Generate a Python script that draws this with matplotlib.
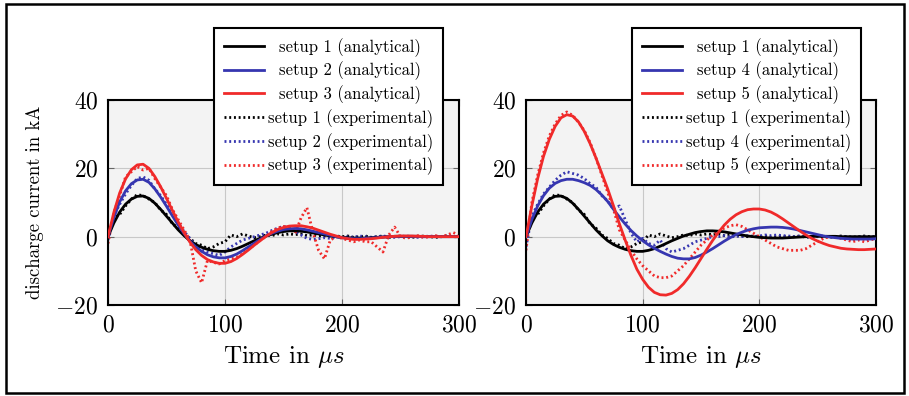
import numpy as np
import matplotlib
matplotlib.use('Agg')
import matplotlib.pyplot as plt
from matplotlib.patches import Rectangle

plt.rcParams['font.family'] = ['cmr10', 'DejaVu Serif']
plt.rcParams['mathtext.fontset'] = 'cm'
plt.rcParams['axes.formatter.use_mathtext'] = True
plt.rcParams['axes.unicode_minus'] = True

# time grid in microseconds (5 us sampling)
t = np.arange(0, 305, 5)

# analytical curves (kA)
s1_ana = [0.0, 4.0, 7.2, 9.5, 11.0, 11.8, 11.9, 11.2, 9.8, 8.0, 6.0, 4.0, 2.0, 0.3, -1.2, -2.3,
          -3.1, -3.7, -4.1, -4.3, -4.3, -4.0, -3.5, -2.8, -2.0, -1.2, -0.5, 0.2, 0.7, 1.2, 1.5,
          1.7, 1.7, 1.6, 1.4, 1.1, 0.8, 0.5, 0.2, 0.0, -0.2, -0.3, -0.4, -0.4, -0.4, -0.3, -0.2,
          -0.1, 0.0, 0.1, 0.1, 0.1, 0.1, 0.1, 0.0, 0.0, 0.0, 0.0, 0.0, 0.0, 0.0]
s2_ana = [0.0, 5.6, 10.2, 13.4, 15.5, 16.6, 16.8, 15.9, 14.0, 11.6, 8.9, 6.1, 3.4, 0.9, -1.3, -3.0,
          -4.3, -5.3, -5.9, -6.2, -6.2, -5.8, -5.1, -4.1, -3.0, -1.9, -0.8, 0.2, 1.0, 1.6, 2.1,
          2.3, 2.4, 2.3, 2.0, 1.6, 1.2, 0.8, 0.4, 0.0, -0.3, -0.5, -0.6, -0.6, -0.5, -0.4, -0.3,
          -0.1, 0.0, 0.1, 0.1, 0.1, 0.1, 0.1, 0.0, 0.0, 0.0, 0.0, 0.0, 0.0, 0.0]
s3_ana = [0.0, 7.1, 12.8, 16.9, 19.6, 21.0, 21.2, 20.0, 17.6, 14.6, 11.2, 7.7, 4.3, 1.2, -1.6, -3.8,
          -5.5, -6.7, -7.4, -7.8, -7.8, -7.3, -6.4, -5.2, -3.9, -2.5, -1.2, 0.1, 1.2, 2.1, 2.7,
          3.1, 3.2, 3.2, 2.9, 2.5, 1.9, 1.3, 0.7, 0.2, -0.3, -0.6, -0.8, -0.8, -0.7, -0.6, -0.4,
          -0.2, 0.0, 0.1, 0.2, 0.2, 0.2, 0.1, 0.1, 0.0, 0.0, 0.0, 0.0, 0.0, 0.0]
s4_ana = [0.0, 5.0, 9.0, 12.0, 14.2, 15.6, 16.4, 16.8, 16.8, 16.4, 15.8, 15.0, 13.8, 12.2, 10.3, 8.0,
          5.8, 3.7, 1.8, 0.2, -1.2, -2.4, -3.4, -4.3, -5.1, -5.8, -6.3, -6.5, -6.5, -6.1, -5.4,
          -4.5, -3.5, -2.4, -1.3, -0.3, 0.6, 1.3, 1.9, 2.3, 2.6, 2.7, 2.8, 2.8, 2.7, 2.5, 2.2,
          1.8, 1.4, 1.0, 0.6, 0.2, -0.1, -0.3, -0.5, -0.6, -0.7, -0.7, -0.7, -0.7, -0.6]
s5_ana = [0.0, 9.0, 17.0, 23.5, 28.5, 32.3, 34.8, 35.7, 35.3, 33.6, 30.8, 27.2, 23.0, 18.5, 14.0, 9.0,
          3.8, -1.0, -5.5, -9.5, -12.5, -14.8, -16.3, -17.0, -17.1, -16.6, -15.5, -13.8, -11.6, -9.1, -6.4,
          -3.7, -1.1, 1.3, 3.4, 5.1, 6.4, 7.3, 7.9, 8.1, 8.1, 7.8, 7.2, 6.3, 5.2, 4.0, 2.8,
          1.6, 0.5, -0.5, -1.3, -2.0, -2.6, -3.0, -3.4, -3.6, -3.7, -3.8, -3.8, -3.7, -3.6]

# experimental curves (kA)
s1_exp = [1.0, 5.5, 6.5, 9.0, 11.0, 12.3, 12.0, 11.0, 10.0, 7.8, 6.5, 3.8, 2.5, 0.5, -0.5, -2.0,
          -2.5, -3.5, -3.0, -2.0, -1.5, 0.5, 0.0, 0.8, 0.2, -0.3, 0.0, 0.5, 0.3, 0.8, 0.5,
          0.8, 0.6, 0.8, 0.3, 0.5, 0.2, 0.3, 0.0, 0.2, 0.0, 0.2, -0.2, 0.0, 0.2, -0.2, 0.0,
          0.2, -0.2, 0.0, 0.2, 0.0, -0.2, 0.0, 0.2, 0.0, -0.2, 0.0, 0.2, 0.0, 0.0]
s2_exp = [-1.0, 6.0, 9.5, 12.5, 15.0, 17.0, 17.5, 16.5, 14.0, 12.0, 9.5, 6.5, 4.0, 1.5, -0.5, -2.5,
          -3.5, -4.5, -5.0, -5.5, -4.5, -3.0, -2.0, -1.0, -0.5, 0.0, 0.5, 1.0, 1.8, 2.5, 3.0,
          2.6, 1.5, 0.5, -0.5, -0.8, -0.6, -0.3, -0.5, 0.0, -0.3, 0.0, -0.2, 0.2, 0.0, -0.2, 0.0,
          0.2, 0.0, -0.2, 0.0, 0.2, 0.0, -0.2, 0.0, 0.2, 0.0, 0.0, 0.2, 0.0, 0.0]
s3_exp = [-2.0, 7.0, 12.0, 17.5, 19.0, 20.5, 19.5, 20.0, 17.0, 14.5, 12.0, 8.0, 5.0, 2.0, -1.0, -10.0,
          -13.5, -7.0, -7.5, -8.0, -7.0, -6.5, -6.0, -5.0, -3.5, -2.5, -1.0, 0.0, 1.5, 2.5, 3.0,
          2.5, 1.0, 5.5, 8.5, 1.5, -4.0, -6.5, -1.0, 0.0, -0.5, -1.0, -1.5, -1.0, -1.5, -1.5, -3.0,
          -4.5, 0.5, 2.8, 0.0, -0.5, 0.0, 0.3, -0.3, 0.0, 0.3, 0.0, 0.5, 1.2, 0.5]
s4_exp = [-3.0, 6.0, 9.5, 12.5, 14.5, 16.5, 18.0, 19.0, 18.5, 18.0, 17.0, 15.5, 14.5, 12.0, 10.5, 8.0,
          9.0, 5.0, 1.0, -1.5, -0.5, -2.0, -2.5, -1.0, -3.5, -4.5, -4.0, -3.5, -2.5, -1.5, -1.0,
          -0.5, 0.0, 0.0, 0.3, -0.2, 0.2, 0.0, 0.3, 0.0, 0.2, 0.5, 0.3, 0.5, 0.3, 0.2, 0.0,
          0.2, 0.0, -0.2, 0.0, 0.2, 0.0, -0.2, 0.0, 0.0, -0.2, 0.0, 0.0, -0.2, 0.0]
s5_exp = [-4.0, 10.0, 18.0, 24.5, 29.5, 33.0, 35.5, 36.5, 35.5, 33.5, 31.0, 27.5, 23.0, 18.0, 13.0, 8.0,
          2.0, -1.0, -4.0, -6.5, -8.5, -10.0, -11.5, -12.0, -12.0, -11.5, -10.0, -8.5, -6.5, -4.5, -2.5,
          -1.0, 0.5, 1.5, 2.5, 3.2, 3.5, 3.0, 2.0, 1.0, 0.0, -1.0, -2.0, -3.0, -3.5, -4.0, -4.0,
          -4.0, -3.5, -2.5, -1.5, -0.5, 0.0, 0.0, -0.5, -1.0, -1.5, -1.0, -1.5, -1.0, -0.5]

left_setups = ['1', '2', '3']
right_setups = ['1', '4', '5']
ana = {'1': s1_ana, '2': s2_ana, '3': s3_ana, '4': s4_ana, '5': s5_ana}
exp = {'1': s1_exp, '2': s2_exp, '3': s3_exp, '4': s4_exp, '5': s5_exp}
colors = ['#000000', '#3636b0', '#f02a2a']

x_ticks = [0, 100, 200, 300]
y_ticks = [-20, 0, 20, 40]


def center_legend_labels(fig, leg):
    """pgfplots style: text centred in the space right of the handle"""
    fig.canvas.draw()
    renderer = fig.canvas.get_renderer()
    texts = leg.get_texts()
    widths = [tx.get_window_extent(renderer).width for tx in texts]
    wmax = max(widths)
    rows = leg._legend_handle_box.get_children()[0].get_children()
    for row, w in zip(rows, widths):
        row.sep += (wmax - w) / 2 * 72.0 / fig.dpi


def draw_panel(fig, ax, setups, legend_anchor):
    ax.set_facecolor('#f3f3f3')
    ana_lines = []
    exp_lines = []
    for s, c in zip(setups, colors):
        l, = ax.plot(t, exp[s], color=c, lw=2.0, linestyle=(0, (0.7, 1.0)),
                     label='setup %s (experimental)' % s, zorder=2)
        exp_lines.append(l)
    for s, c in zip(setups, colors):
        l, = ax.plot(t, ana[s], color=c, lw=2.0, label='setup %s (analytical)' % s, zorder=3)
        ana_lines.append(l)
    ax.set_xlim(0, 300)
    ax.set_ylim(-20, 40)
    ax.set_xticks(x_ticks)
    ax.set_yticks(y_ticks)
    ax.grid(True, color='#c8c8c8', lw=0.8)
    ax.set_axisbelow(True)
    ax.tick_params(direction='in', length=4, width=0.8, color='#666666',
                   top=True, right=True, labelsize=17, pad=7)
    for sp in ax.spines.values():
        sp.set_linewidth(1.5)
    ax.set_xlabel(r'Time in $\mu s$', fontsize=18, labelpad=5)
    handles = ana_lines + exp_lines
    leg = fig.legend(handles=handles, labels=[h.get_label() for h in handles],
                     loc='upper right', bbox_to_anchor=legend_anchor,
                     bbox_transform=fig.transFigure, borderaxespad=0.0,
                     fancybox=False, framealpha=1.0, edgecolor='black',
                     fontsize=12, handlelength=2.4, handletextpad=0.25,
                     labelspacing=0.3, borderpad=0.6)
    leg.get_frame().set_linewidth(1.5)
    return leg


fig = plt.figure(figsize=(9.09, 3.96), dpi=100)
ax1 = fig.add_axes([108 / 909, 1 - 305 / 396, 351 / 909, 205 / 396])
ax2 = fig.add_axes([526 / 909, 1 - 305 / 396, 350 / 909, 205 / 396])

leg1 = draw_panel(fig, ax1, left_setups, (443 / 909, 1 - 28 / 396))
leg2 = draw_panel(fig, ax2, right_setups, (861 / 909, 1 - 28 / 396))
ax1.set_ylabel('discharge current in kA', fontsize=13.5, labelpad=8)

center_legend_labels(fig, leg1)
center_legend_labels(fig, leg2)

# outer frame around the whole figure
fig.patches.append(Rectangle((6 / 909, 3 / 396), 898 / 909, 389 / 396,
                             transform=fig.transFigure, fill=False,
                             edgecolor='black', lw=1.8))

fig.savefig('out.png', dpi=100)
